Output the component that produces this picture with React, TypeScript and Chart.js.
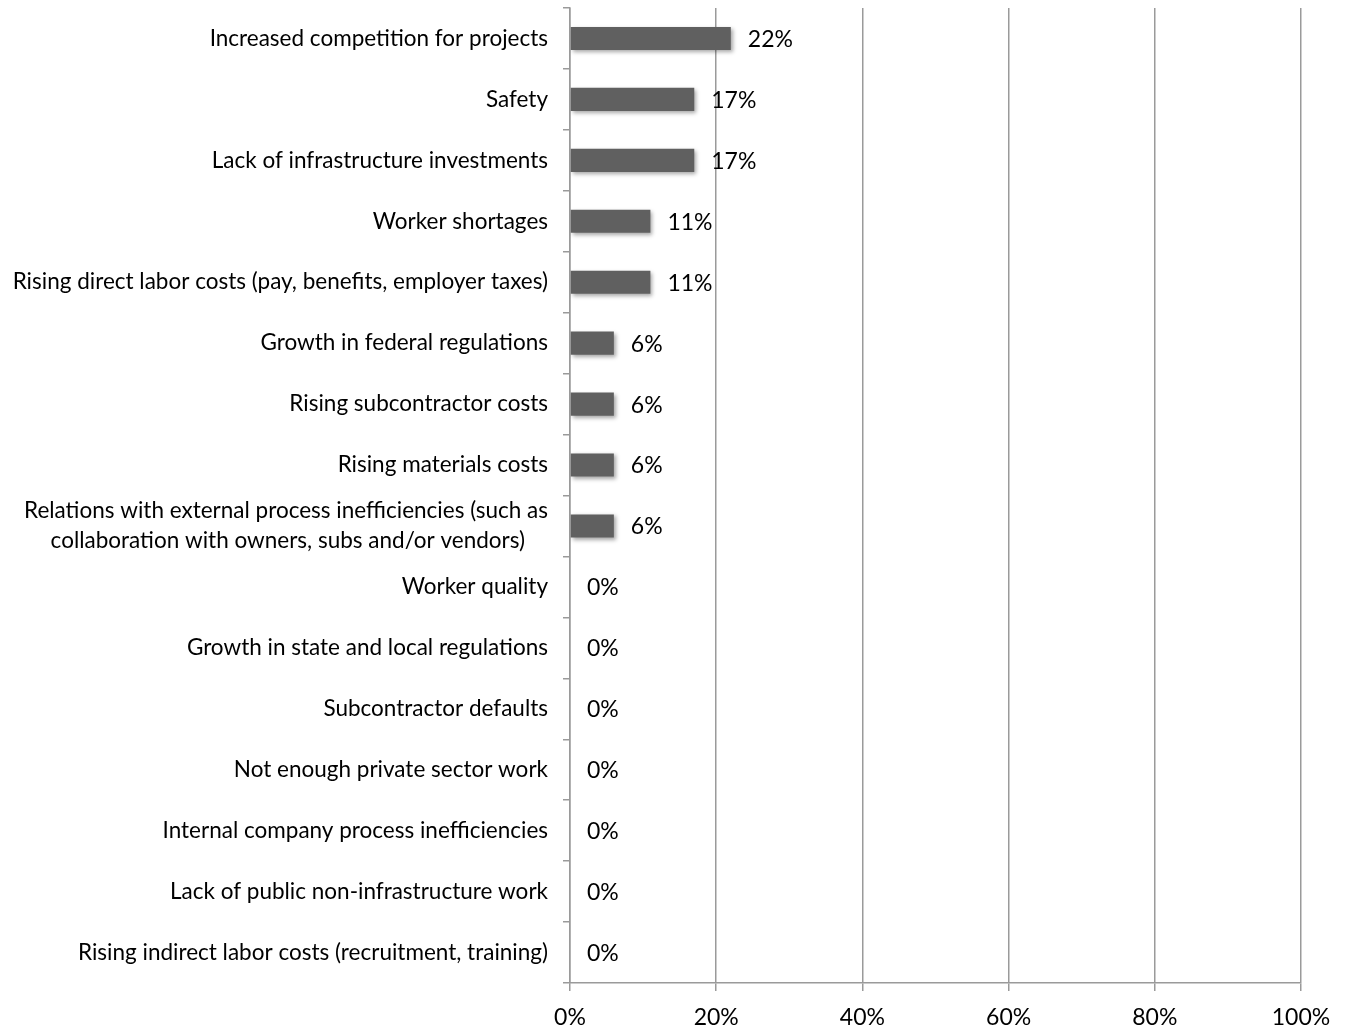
import React, { useEffect, useRef } from "react";
import { Chart, registerables } from "chart.js";

Chart.register(...registerables);

const categories: (string | string[])[] = [
  "Increased competition for projects",
  "Safety",
  "Lack of infrastructure investments",
  "Worker shortages",
  "Rising direct labor costs (pay, benefits, employer taxes)",
  "Growth in federal regulations",
  "Rising subcontractor costs",
  "Rising materials costs",
  [
    "Relations with external process inefficiencies (such as",
    "collaboration with owners, subs and/or vendors)\u00a0\u00a0\u00a0\u00a0",
  ],
  "Worker quality",
  "Growth in state and local regulations",
  "Subcontractor defaults",
  "Not enough private sector work",
  "Internal company process inefficiencies",
  "Lack of public non-infrastructure work",
  "Rising indirect labor costs (recruitment, training)",
];

const values: number[] = [22, 17, 17, 11, 11, 6, 6, 6, 6, 0, 0, 0, 0, 0, 0, 0];

const xTicks: number[] = [0, 20, 40, 60, 80, 100];

const FONT = "Lato, 'Open Sans', sans-serif";

const shadowPlugin = {
  id: "barShadow",
  beforeDatasetsDraw(chart: any) {
    const ctx = chart.ctx;
    ctx.save();
    ctx.shadowColor = "rgba(0,0,0,0.35)";
    ctx.shadowBlur = 4;
    ctx.shadowOffsetX = 2;
    ctx.shadowOffsetY = 2;
  },
  afterDatasetsDraw(chart: any) {
    chart.ctx.restore();
  },
};

const labelPlugin = {
  id: "valueLabels",
  afterDraw(chart: any) {
    const ctx = chart.ctx;
    const meta = chart.getDatasetMeta(0);
    ctx.save();
    ctx.font = `23px ${FONT}`;
    ctx.fillStyle = "#000";
    ctx.textAlign = "left";
    ctx.textBaseline = "middle";
    meta.data.forEach((el: any, i: number) => {
      const v = chart.data.datasets[0].data[i];
      ctx.fillText(`${v}%`, el.x + 17, el.y + 1);
    });
    ctx.restore();
  },
};

export default function App() {
  const ref = useRef<HTMLCanvasElement | null>(null);
  useEffect(() => {
    if (!ref.current) return;
    const chart = new Chart(ref.current, {
      type: "bar",
      data: {
        labels: categories,
        datasets: [
          {
            data: values,
            backgroundColor: "#606060",
            borderWidth: 0,
            categoryPercentage: 1,
            barPercentage: 0.38,
          },
        ],
      },
      options: {
        indexAxis: "y",
        animation: false,
        responsive: true,
        maintainAspectRatio: false,
        layout: { padding: { top: 8, right: 48, bottom: 0, left: 0 } },
        plugins: {
          legend: { display: false },
          tooltip: { enabled: false },
        },
        scales: {
          x: {
            min: 0,
            max: 100,
            afterBuildTicks: (scale: any) => {
              scale.ticks = xTicks.map((v) => ({ value: v }));
            },
            afterFit: (scale: any) => {
              scale.height = 49;
            },
            ticks: {
              callback: (v: any) => `${v}%`,
              color: "#000",
              font: { family: FONT, size: 23 },
              padding: 13,
              maxRotation: 0,
            },
            grid: {
              color: "#9a9a9a",
              lineWidth: 1.5,
              tickLength: 8,
              drawTicks: true,
            },
            border: { color: "#9a9a9a", width: 1.5 },
          },
          y: {
            afterFit: (scale: any) => {
              scale.width = 570;
              scale.paddingTop = 0;
              scale.paddingBottom = 0;
            },
            ticks: {
              autoSkip: false,
              color: "#000",
              font: { family: FONT, size: 22.5, lineHeight: 1.33 },
              padding: 15,
            },
            grid: {
              offset: true,
              drawOnChartArea: false,
              drawTicks: true,
              tickLength: 7,
              color: "#9a9a9a",
              lineWidth: 1.5,
            },
            border: { color: "#9a9a9a", width: 1.5 },
          },
        },
      },
      plugins: [shadowPlugin, labelPlugin],
    });
    return () => chart.destroy();
  }, []);
  return (
    <div style={{ position: "fixed", left: 0, top: 0, width: 1349, height: 1032, background: "#fff" }}>
      <canvas ref={ref} />
    </div>
  );
}
